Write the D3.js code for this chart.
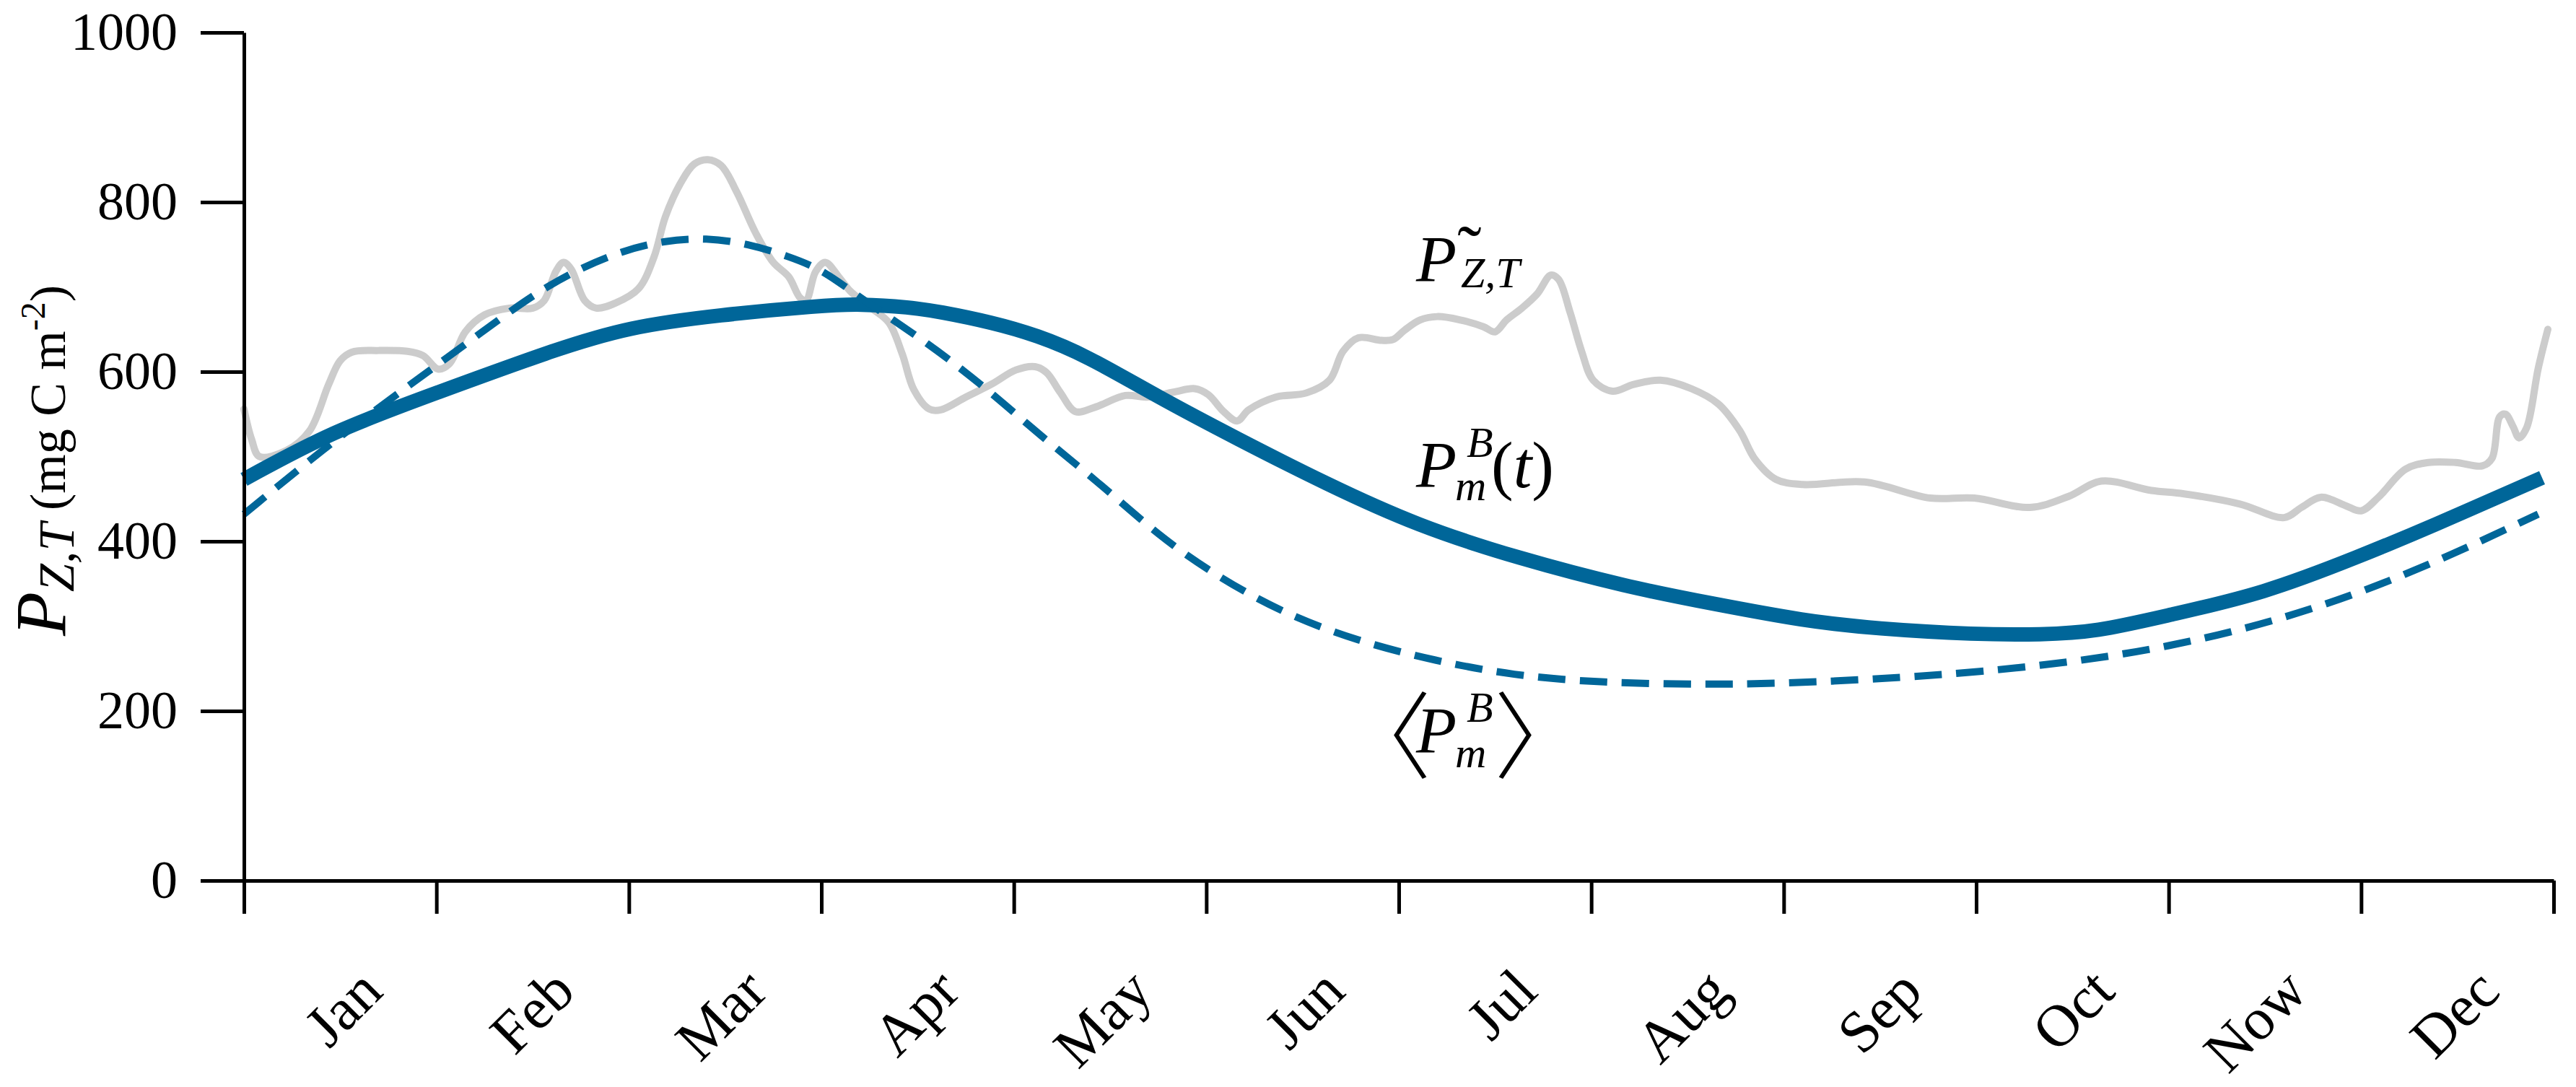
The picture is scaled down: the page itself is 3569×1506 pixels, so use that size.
<!DOCTYPE html>
<html><head><meta charset="utf-8">
<script src="https://cdn.jsdelivr.net/npm/d3@7"></script>
<style>body{margin:0;background:#fff}</style>
</head><body>
<svg id="c" width="3569" height="1506" style="background:#fff"></svg>
<script>
// ---------- data ----------
const months = ["Jan","Feb","Mar","Apr","May","Jun","Jul","Aug","Sep","Oct","Now","Dec"];
const monthTicks = [0,1,2,3,4,5,6,7,8,9,10,11,12];
const yTicks = [0,200,400,600,800,1000];

// observed P~_{Z,T} (grey), time in months
const grayT = [0.0,0.04,0.08,0.22,0.34,0.44,0.5,0.56,0.7,0.85,0.93,1.01,1.07,1.15,1.25,1.38,1.5,1.56,1.62,1.66,1.7,1.77,1.83,1.93,2.05,2.13,2.19,2.27,2.34,2.41,2.48,2.56,2.66,2.75,2.83,2.89,2.92,2.97,3.02,3.09,3.15,3.26,3.35,3.42,3.48,3.56,3.62,3.75,3.89,4.01,4.11,4.17,4.24,4.32,4.42,4.58,4.69,4.83,4.94,5.01,5.09,5.16,5.22,5.36,5.52,5.64,5.71,5.79,5.91,5.97,6.03,6.11,6.2,6.32,6.44,6.5,6.56,6.64,6.72,6.79,6.83,6.89,6.95,7.01,7.11,7.22,7.36,7.52,7.66,7.77,7.85,7.96,8.1,8.42,8.76,8.99,9.28,9.48,9.65,9.91,10.08,10.37,10.6,10.69,10.79,10.92,11.0,11.09,11.23,11.35,11.49,11.63,11.68,11.72,11.75,11.79,11.82,11.86,11.92,11.97];
const grayV = [556,520,500,507,530,585,613,623,625,624,619,603,610,647,667,675,675,684,718,729,721,684,675,681,698,735,783,823,845,850,843,812,763,729,712,687,684,718,729,712,695,675,658,621,579,556,555,570,586,602,606,599,576,553,558,572,570,576,580,573,553,542,555,570,575,590,624,640,637,638,649,661,665,661,653,647,661,675,692,714,709,670,624,590,577,585,590,580,562,531,497,473,467,470,451,451,440,453,471,460,456,444,428,440,452,442,436,452,485,493,493,489,498,547,550,535,522,534,604,650];

// P_m^B(t) (solid)
const solidT = [0,0.46,1,1.6,2,2.47,3,3.2,3.46,3.61,3.89,4.12,4.37,4.75,5.16,5.62,6.1,6.62,7.19,7.62,8.11,8.48,9,9.34,9.62,10,10.49,11,11.35,11.94];
const solidV = [473,530,575,625,653,667,678,680,676,671,658,643,620,570,521,468,418,380,346,327,306,297,290,290,293,313,338,383,416,475];

// <P_m^B> (dashed)
const dashT = [0,0.46,0.89,1.22,1.58,1.93,2.19,2.4,2.62,2.83,3.01,3.2,3.56,3.87,4.12,4.47,4.75,5.04,5.39,5.79,6.19,6.59,7.05,7.62,8.11,9,10,11,11.92];
const dashV = [432,518,589,644,704,741,755,758,751,736,720,687,633,578,528,464,407,361,316,282,259,242,233,231,233,244,271,334,432];

// ---------- drawing ----------
const FONT = "'Liberation Serif','Times New Roman',Times,serif";
const BLUE = "#006699";
const svg = d3.select("#c");
const x = d3.scaleLinear().domain([0,12]).range([338,3538]);
const y = d3.scaleLinear().domain([0,1000]).range([1220,45]);

const mkLine = (T,V,curve) => d3.line().x((d,i)=>x(T[i])).y((d,i)=>y(V[i])).curve(curve)(T);

svg.append("path").attr("d", mkLine(grayT,grayV,d3.curveCatmullRom.alpha(0.5)))
  .attr("fill","none").attr("stroke","#cccccc").attr("stroke-width",10)
  .attr("stroke-linejoin","round").attr("stroke-linecap","round");
svg.append("path").attr("d", mkLine(solidT,solidV,d3.curveBasis))
  .attr("fill","none").attr("stroke",BLUE).attr("stroke-width",20);
svg.append("path").attr("d", mkLine(dashT,dashV,d3.curveBasis))
  .attr("fill","none").attr("stroke",BLUE).attr("stroke-width",10)
  .attr("stroke-dasharray","38,20");

// axes
const gy = svg.append("g").attr("transform",`translate(${x(0)},0)`)
  .call(d3.axisLeft(y).tickValues(yTicks).tickSize(60).tickSizeOuter(0).tickPadding(32).tickFormat(d3.format("d")));
gy.selectAll("path,line").attr("stroke","#000").attr("stroke-width",5);
gy.selectAll("text").attr("font-family",FONT).attr("font-size",74).attr("fill","#000");

const gx = svg.append("g").attr("transform",`translate(0,${y(0)})`)
  .call(d3.axisBottom(x).tickValues(monthTicks).tickSize(46).tickSizeOuter(0).tickFormat(""));
gx.selectAll("path,line").attr("stroke","#000").attr("stroke-width",5);

svg.append("g").selectAll("text").data(months).join("text")
  .attr("transform",(d,i)=>`translate(${x(i+0.5)+62},1377) rotate(-45)`)
  .attr("text-anchor","end").attr("font-family",FONT).attr("font-size",82)
  .attr("fill","#000").text(d=>d);

// y label
const yl = svg.append("text").attr("transform","translate(90,638) rotate(-90)")
  .attr("text-anchor","middle").attr("font-family",FONT).attr("fill","#000");
yl.append("tspan").attr("font-size",100).attr("font-style","italic").text("P");
yl.append("tspan").attr("font-size",70).attr("font-style","italic").attr("dy",12).text("Z,T");
yl.append("tspan").attr("font-size",70).attr("dy",-12).text(" (mg C m");
yl.append("tspan").attr("font-size",48).attr("dy",-28).text("-2");
yl.append("tspan").attr("font-size",70).attr("dy",28).text(")");

// annotations
function t(xp,yp,size,str,italic,anchor,fam){
  return svg.append("text").attr("x",xp).attr("y",yp).attr("font-size",size)
    .attr("font-family",fam||FONT).attr("font-style",italic?"italic":"normal")
    .attr("text-anchor",anchor||"start").attr("fill","#000").text(str);
}
// P tilde Z,T
t(1962,390,92,"P",true);
t(2036,381,100,"\u02DC",false,"middle");
t(2024,398,60,"Z,T",true);
// P_m^B(t)
t(1962,675,92,"P",true);
t(2032,633,60,"B",true);
t(2016,693,60,"m",true);
const pt = t(2066,675,92,"(",false);
pt.append("tspan").attr("font-style","italic").text("t");
pt.append("tspan").text(")");
// <P_m^B>
const CJK = "'Noto Sans CJK JP',sans-serif";
t(1852,1068,131,"\u3008",false,"start",CJK).attr("font-weight",300);
t(1962,1043,92,"P",true);
t(2032,1000,60,"B",true);
t(2016,1063,60,"m",true);
t(2070,1068,131,"\u3009",false,"start",CJK).attr("font-weight",300);
</script>
</body></html>
